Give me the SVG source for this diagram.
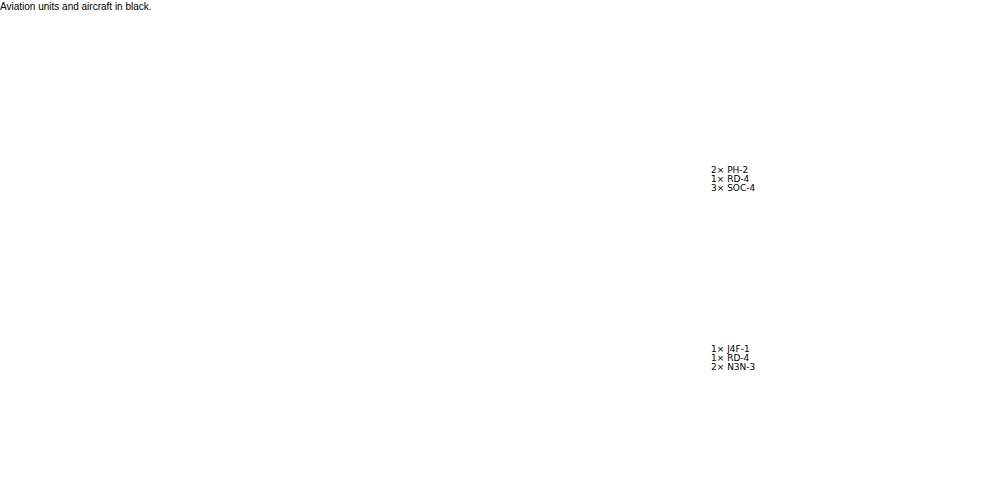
<svg xmlns="http://www.w3.org/2000/svg" width="1000" height="500" viewBox="0 0 1000 500">
<style>
text{font-family:"DejaVu Sans","Liberation Sans",sans-serif;fill:#000}
.t{font-size:9px}
.l{font-size:10px;font-family:"Liberation Sans",sans-serif}
</style>
<rect width="1000" height="500" fill="#fff"/>
<text class="l" x="0" y="10">Aviation units and aircraft in black.</text>
<g id="group1"><text class="t" x="711" y="173">2× PH-2</text><text class="t" x="711" y="182">1× RD-4</text><text class="t" x="711" y="191">3× SOC-4</text></g>
<g id="group2"><text class="t" x="711" y="352">1× J4F-1</text><text class="t" x="711" y="361">1× RD-4</text><text class="t" x="711" y="370">2× N3N-3</text></g>
<g id="connectors"/>
</svg>
